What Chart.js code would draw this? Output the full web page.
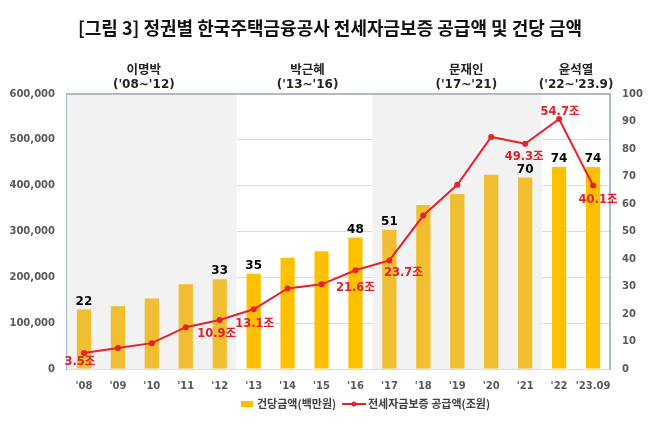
<!DOCTYPE html>
<html>
<head>
<meta charset="utf-8">
<script src="https://cdn.jsdelivr.net/npm/chart.js@4/dist/chart.umd.min.js"></script>
<style>
  body { margin: 0; background: #fff; }
  #wrap { width: 658px; height: 428px; }
</style>
</head>
<body>
<div id="wrap"><canvas id="chart" width="658" height="428"></canvas></div>
<script>
// 연도
const years = ["'08", "'09", "'10", "'11", "'12", "'13", "'14", "'15", "'16", "'17", "'18", "'19", "'20", "'21", "'22", "'23.09"];
// 막대 (왼쪽 축)
const barValues = [130000, 137000, 154000, 185000, 196000, 208000, 243000, 257000, 287000, 304000, 358000, 382000, 424000, 418000, 441000, 441000];
// 막대 위 라벨 (건당금액, 백만원)
const barLabels = ["22", "", "", "", "33", "35", "", "", "48", "51", "", "", "", "70", "74", "74"];
// 선 (오른쪽 축)
const lineValues = [5.8, 7.6, 9.4, 15.2, 17.8, 21.7, 29.3, 30.8, 35.9, 39.5, 55.8, 67, 84.4, 81.9, 90.9, 66.7];
// 선 라벨 (조원)
const lineLabels = ["3.5조", "", "", "", "10.9조", "13.1조", "", "", "21.6조", "23.7조", "", "", "", "49.3조", "54.7조", "40.1조"];
// 정권 구간
const periods = [
  { name: "이명박", range: "('08~'12)", from: 0, to: 4, shade: true },
  { name: "박근혜", range: "('13~'16)", from: 5, to: 8, shade: false },
  { name: "문재인", range: "('17~'21)", from: 9, to: 13, shade: true },
  { name: "윤석열", range: "('22~'23.9)", from: 14, to: 15, shade: false }
];

const titleText = "[그림 3] 정권별 한국주택금융공사 전세자금보증 공급액 및 건당 금액";
const barName = "건당금액(백만원)";
const lineName = "전세자금보증 공급액(조원)";

const KR = "'Noto Sans CJK KR', sans-serif";
const NUM = "'DejaVu Sans', 'Noto Sans CJK KR', sans-serif";

const barColors = barValues.map((v, i) => {
  const p = periods.find(p => i >= p.from && i <= p.to);
  return p.shade ? "#f0be30" : "#ffc000";
});

// 배경 음영
const bandsPlugin = {
  id: "bands",
  beforeDatasetsDraw(chart) {
    const { ctx, chartArea: a, scales: { x } } = chart;
    const step = x.getPixelForValue(1) - x.getPixelForValue(0);
    ctx.save();
    periods.forEach(p => {
      if (!p.shade) return;
      const l = x.getPixelForValue(p.from) - step / 2;
      const r = x.getPixelForValue(p.to) + step / 2;
      ctx.fillStyle = "#f2f2f2";
      ctx.fillRect(l, a.top, r - l, a.bottom - a.top);
    });
    ctx.restore();
  }
};

// 제목, 정권 라벨, 데이터 라벨, 범례
const textPlugin = {
  id: "texts",
  afterDraw(chart) {
    const { ctx, chartArea: a, scales: { x, y, y1 } } = chart;
    ctx.save();
    ctx.textAlign = "center";
    ctx.textBaseline = "middle";

    // 제목
    ctx.fillStyle = "#111";
    ctx.font = "bold 18px " + KR;
    ctx.fillText(titleText, 330, 28);

    // 상단 테두리
    ctx.strokeStyle = "#a9bccb";
    ctx.lineWidth = 2;
    ctx.beginPath();
    ctx.moveTo(a.left, a.top);
    ctx.lineTo(a.right, a.top);
    ctx.stroke();

    // 정권 라벨
    const shift = [-8, 3, 9, 0];
    ctx.fillStyle = "#222";
    periods.forEach((p, k) => {
      const cx = (x.getPixelForValue(p.from) + x.getPixelForValue(p.to)) / 2 + shift[k];
      ctx.font = "bold 12.5px " + KR;
      ctx.fillText(p.name, cx, 69);
      ctx.font = "bold 12px " + NUM;
      ctx.fillText(p.range, cx, 85);
    });

    // 막대 라벨
    ctx.fillStyle = "#000";
    ctx.font = "bold 12px " + NUM;
    ctx.textBaseline = "bottom";
    barLabels.forEach((t, i) => {
      if (!t) return;
      ctx.fillText(t, x.getPixelForValue(i), y.getPixelForValue(barValues[i]) - 2);
    });

    // 선 라벨
    const offs = {
      0: [-4, 9], 4: [-3, 14], 5: [1, 15], 8: [0, 18], 9: [14, 13],
      13: [-1, 13], 14: [1, -7], 15: [5, 14]
    };
    ctx.fillStyle = "#e0202a";
    ctx.font = "bold 11.5px " + NUM;
    ctx.textBaseline = "middle";
    lineLabels.forEach((t, i) => {
      if (!t) return;
      const o = offs[i] || [0, 12];
      ctx.fillText(t, x.getPixelForValue(i) + o[0], y1.getPixelForValue(lineValues[i]) + o[1]);
    });

    // 범례
    const ly = 404;
    ctx.fillStyle = "#ffc000";
    ctx.fillRect(241, ly - 3, 12, 6);
    ctx.fillStyle = "#404040";
    ctx.font = "bold 11px " + KR;
    ctx.textAlign = "left";
    ctx.fillText(barName, 257, ly);
    ctx.strokeStyle = "#e8202a";
    ctx.lineWidth = 2;
    ctx.beginPath();
    ctx.moveTo(342, ly);
    ctx.lineTo(366, ly);
    ctx.stroke();
    ctx.fillStyle = "#e8202a";
    ctx.beginPath();
    ctx.arc(354, ly, 2.5, 0, Math.PI * 2);
    ctx.fill();
    ctx.fillStyle = "#404040";
    ctx.fillText(lineName, 368, ly);
    ctx.restore();
  }
};

new Chart(document.getElementById("chart"), {
  type: "bar",
  data: {
    labels: years,
    datasets: [
      {
        type: "line",
        label: lineName,
        data: lineValues,
        yAxisID: "y1",
        borderColor: "#e8202a",
        backgroundColor: "#e8202a",
        borderWidth: 2,
        pointRadius: 3,
        pointBackgroundColor: "#e8202a",
        pointBorderWidth: 0,
        tension: 0,
        order: 0
      },
      {
        label: barName,
        data: barValues,
        yAxisID: "y",
        backgroundColor: barColors,
        barPercentage: 0.42,
        categoryPercentage: 1,
        order: 1
      }
    ]
  },
  options: {
    responsive: false,
    animation: false,
    layout: { padding: { top: 94, bottom: 35, left: 0, right: 0 } },
    plugins: {
      legend: { display: false },
      tooltip: { enabled: false }
    },
    scales: {
      x: {
        grid: { display: false },
        border: { display: false },
        ticks: {
          color: "#595959",
          font: { family: NUM, size: 10, weight: "bold" },
          padding: 3,
          maxRotation: 0,
          autoSkip: false
        },
        afterFit(s) { s.height = 24; }
      },
      y: {
        position: "left",
        min: 0,
        max: 600000,
        ticks: {
          stepSize: 100000,
          color: "#595959",
          padding: 12,
          font: { family: NUM, size: 10, weight: "bold" },
          callback: v => v.toLocaleString("en-US")
        },
        grid: { color: "#dcdcdc", lineWidth: 1, drawTicks: false },
        border: { color: "#a9bccb", width: 2 },
        afterFit(s) { s.width = 67; }
      },
      y1: {
        position: "right",
        min: 0,
        max: 100,
        ticks: {
          stepSize: 10,
          color: "#595959",
          padding: 12,
          font: { family: NUM, size: 10, weight: "bold" }
        },
        grid: { display: false, drawTicks: false },
        border: { color: "#a9bccb", width: 2 },
        afterFit(s) { s.width = 48; }
      }
    }
  },
  plugins: [bandsPlugin, textPlugin]
});
</script>
</body>
</html>
